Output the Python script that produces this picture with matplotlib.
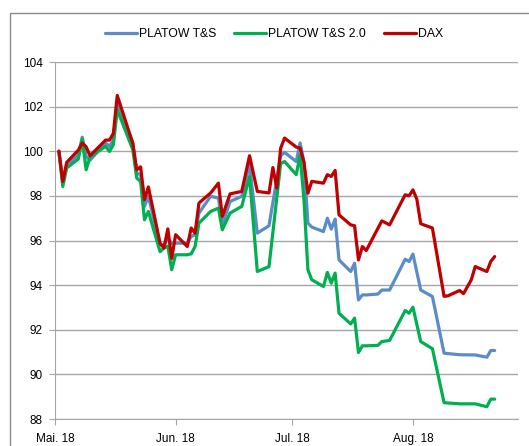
#!/usr/bin/env python3
# -*- coding: utf-8 -*-

import numpy as np
import pandas as pd
import matplotlib
matplotlib.use('Agg')
from matplotlib import pyplot as plt
from matplotlib.patches import Rectangle

plt.rcParams['font.family'] = ['Liberation Sans', 'DejaVu Sans']

# Datum der Messpunkte
dates = ['2018-05-02', '2018-05-03', '2018-05-04', '2018-05-07', '2018-05-08', '2018-05-09',
         '2018-05-10', '2018-05-14', '2018-05-15', '2018-05-16', '2018-05-17', '2018-05-21',
         '2018-05-22', '2018-05-23', '2018-05-24', '2018-05-25', '2018-05-28', '2018-05-29',
         '2018-05-30', '2018-05-31', '2018-06-01', '2018-06-04', '2018-06-05', '2018-06-06',
         '2018-06-07', '2018-06-10', '2018-06-12', '2018-06-13', '2018-06-15', '2018-06-18',
         '2018-06-20', '2018-06-22', '2018-06-25', '2018-06-26', '2018-06-27', '2018-06-28',
         '2018-06-29', '2018-07-02', '2018-07-03', '2018-07-04', '2018-07-05', '2018-07-06',
         '2018-07-09', '2018-07-10', '2018-07-11', '2018-07-12', '2018-07-13', '2018-07-16',
         '2018-07-17', '2018-07-18', '2018-07-19', '2018-07-20', '2018-07-23', '2018-07-24',
         '2018-07-26', '2018-07-30', '2018-07-31', '2018-08-01', '2018-08-02', '2018-08-03',
         '2018-08-06', '2018-08-09', '2018-08-10', '2018-08-13', '2018-08-14', '2018-08-16',
         '2018-08-17', '2018-08-20', '2018-08-21', '2018-08-22']

nan = np.nan
platow = [100.0, 98.6, 99.35, 99.84, 100.63, 99.77,
          99.6, 100.37, 100.22, 100.5, 102.23, 100.37,
          99.02, 98.95, 97.53, 97.98, 95.8, 95.8,
          96.1, 95.88, 95.88, 95.88, 96.18, 96.26,
          97.23, 97.98, 97.9, 96.7, 97.75, 97.98,
          99.4, 96.33, 96.66, nan, nan, 99.8,
          99.95, 99.54, 100.37, 99.5, 96.78, 96.6,
          96.4, 97.0, 96.51, 96.96, 95.13, 94.61,
          94.98, 93.34, 93.56, 93.56, 93.6, 93.78,
          93.78, 95.16, 95.06, 95.39, nan, 93.78,
          93.49, 90.95, nan, 90.88, nan, nan,
          90.87, 90.77, 91.07, 91.07]

platow_20 = [100.0, 98.42, 99.25, 99.65, 100.55, 99.17,
             99.74, 100.22, 99.99, 100.29, 101.86, 100.07,
             98.8, 98.65, 96.93, 97.3, 95.5, 95.66,
             95.75, 94.69, 95.36, 95.36, 95.4, 95.73,
             96.78, 97.3, 97.45, 96.48, 97.23, 97.53,
             98.87, 94.61, 94.83, nan, nan, 99.45,
             99.54, 98.95, 99.84, 97.8, 94.69, 94.24,
             93.94, 94.57, 94.09, 94.54, 92.74, 92.26,
             92.52, 90.98, 91.28, 91.28, 91.3, 91.47,
             91.52, 92.86, 92.74, 93.01, nan, 91.47,
             91.15, 88.73, nan, 88.68, nan, nan,
             88.68, 88.55, 88.89, 88.89]

dax = [100.0, 98.65, 99.5, 100.05, 100.37, 100.2,
       99.8, 100.5, 100.5, 100.8, 102.5, 100.35,
       99.17, 99.3, 97.83, 98.4, 95.88, 95.66,
       96.52, 95.2, 96.26, 95.73, 96.56, 96.33,
       97.68, 98.13, 98.57, 97.08, 98.09, 98.2,
       99.8, 98.2, 98.13, 99.27, 98.35, 100.14,
       100.59, 100.19, 100.14, 99.5, 98.12, 98.65,
       98.57, 98.95, 98.87, 99.14, 97.15, 96.7,
       96.66, 95.13, 95.73, 95.55, nan, 96.88,
       96.7, 98.05, 98.0, 98.27, 97.85, 96.75,
       96.56, 93.5, 93.52, 93.76, 93.62, 94.24,
       94.83, 94.61, 95.06, 95.28]

series_names = ['PLATOW T&S', 'PLATOW T&S 2.0', 'DAX']
colors = ['#5B8CC8', '#00B050', '#C00000']
month_ticks = ['2018-05-01', '2018-06-01', '2018-07-01', '2018-08-01']
month_labels = ['Mai. 18', 'Jun. 18', 'Jul. 18', 'Aug. 18']
y_ticks = [88, 90, 92, 94, 96, 98, 100, 102, 104]

x = pd.to_datetime(dates)

fig = plt.figure(figsize=(5.29, 4.46), dpi=100)
ax = fig.add_axes([55 / 529, 27 / 446, 463 / 529, 357 / 446])

# Linien zeichnen, fehlende Werte überspringen
for vals, name, col in zip([platow, platow_20, dax], series_names, colors):
    s = pd.Series(vals, index=x).dropna()
    ax.plot(s.index, s.values, color=col, lw=2.3, label=name,
            solid_joinstyle='round', solid_capstyle='round')

ax.set_ylim(88, 104)
ax.set_yticks(y_ticks)
ax.set_xlim(pd.Timestamp('2018-05-01'), pd.Timestamp('2018-08-28'))
ax.set_xticks(pd.to_datetime(month_ticks))
ax.set_xticklabels(month_labels)

# Gitter und Achsen
ax.grid(axis='y', color='#a6a6a6', lw=1)
ax.set_axisbelow(True)
for sp in ['top', 'right']:
    ax.spines[sp].set_visible(False)
for sp in ['left', 'bottom']:
    ax.spines[sp].set_color('#a6a6a6')
ax.tick_params(axis='both', colors='#a6a6a6', labelcolor='black', labelsize=8.5, length=4)
ax.tick_params(axis='y', pad=5)
ax.tick_params(axis='x', pad=6)

# Rahmen um das Diagramm
fig.patches.append(Rectangle((10 / 529, -0.05), 1.2, 0.05 + 1 - 13 / 446, transform=fig.transFigure,
                             fill=False, edgecolor='#8c8c8c', lw=1, clip_on=False))

fig.legend(loc='center', bbox_to_anchor=(274 / 529, 1 - 34 / 446), ncol=3, frameon=False,
           fontsize=8.8, handlelength=2.6, handletextpad=0.15, columnspacing=1.5)

plt.savefig('out.png', dpi=100)
